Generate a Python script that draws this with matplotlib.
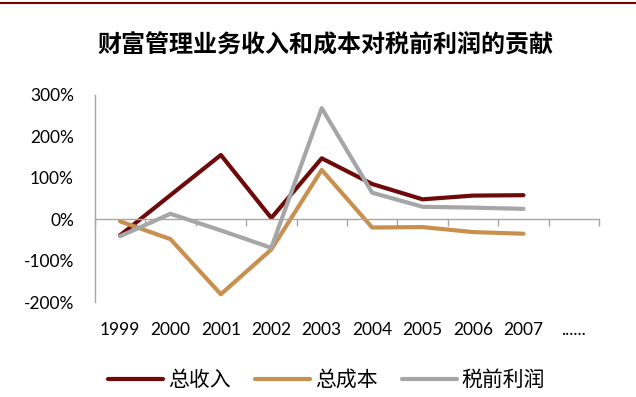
import matplotlib
matplotlib.use("Agg")
import matplotlib.pyplot as plt
from matplotlib.lines import Line2D
import matplotlib.transforms as mtransforms

plt.rcParams["font.family"] = ["Lato", "Noto Sans CJK SC", "DejaVu Sans"]

categories = ["1999", "2000", "2001", "2002", "2003", "2004", "2005", "2006", "2007", "......"]
years = list(range(9))
revenue = [-39, 58, 155, 3, 147, 85, 48, 57, 58]
cost = [-5, -48, -181, -73, 119, -20, -19, -31, -35]
profit = [-41, 13, -27, -69, 268, 64, 30, 28, 25]
series_names = ["总收入", "总成本", "税前利润"]
colors = ["#6E0A0A", "#C8904E", "#A6A6A6"]

fig = plt.figure(figsize=(6.36, 3.97), dpi=100)
ax = fig.add_axes([0.149, 0.239, 0.793, 0.522])

for vals, name, c in zip([revenue, cost, profit], series_names, colors):
    ax.plot(years, vals, color=c, lw=3.0, label=name, solid_capstyle="round")

ax.set_xlim(-0.5, len(categories) - 0.5)
ax.set_ylim(-200, 300)
ax.set_yticks(range(-200, 301, 100))
ax.set_yticklabels([f"{v}%" for v in range(-200, 301, 100)], fontsize=12.5)
ax.tick_params(axis="y", length=0, pad=15)

for s in ["top", "right"]:
    ax.spines[s].set_visible(False)
ax.spines["left"].set_color("#A6A6A6")
ax.spines["left"].set_linewidth(1.0)
ax.spines["bottom"].set_position(("data", 0))
ax.spines["bottom"].set_color("#A6A6A6")
ax.spines["bottom"].set_linewidth(1.0)
ax.set_xticks([i - 0.5 for i in range(len(categories) + 1)])
ax.set_xticklabels([])
ax.tick_params(axis="x", direction="out", length=5, color="#A6A6A6", width=1.0)

trans = mtransforms.blended_transform_factory(ax.transData, ax.transAxes)
for i, lab in enumerate(categories):
    ax.text(i, -0.135, lab, transform=trans, ha="center", va="center", fontsize=12.5)

fig.text(0.512, 0.887, "财富管理业务收入和成本对税前利润的贡献", ha="center", va="center",
         fontsize=17.3, fontweight="bold", family=["Noto Sans CJK SC"])

fig.add_artist(Line2D([0, 1], [0.992, 0.992], transform=fig.transFigure, color="#7A0000", lw=1.5))

leg = fig.legend(loc="center", bbox_to_anchor=(0.514, 0.043), ncol=3, frameon=False,
                 handlelength=2.6, columnspacing=1.2, handletextpad=0.25,
                 prop={"family": ["Noto Sans CJK SC"], "size": 15})

fig.savefig("out.png", dpi=100)
